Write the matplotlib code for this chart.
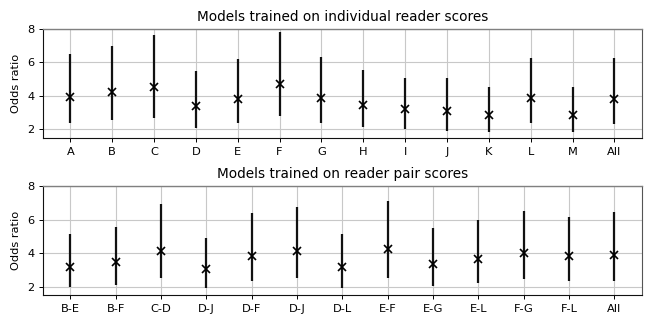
import matplotlib.pyplot as plt
import numpy as np

# individual readers
single_labels = ["A", "B", "C", "D", "E", "F", "G", "H", "I", "J", "K", "L", "M", "All"]
single_or = [3.91, 4.21, 4.51, 3.42, 3.81, 4.71, 3.85, 3.46, 3.22, 3.12, 2.88, 3.87, 2.86, 3.81]
single_lo = [2.35, 2.54, 2.66, 2.09, 2.35, 2.80, 2.35, 2.15, 1.99, 1.89, 1.83, 2.37, 1.83, 2.33]
single_hi = [6.51, 6.99, 7.64, 5.52, 6.21, 7.84, 6.31, 5.56, 5.10, 5.06, 4.55, 6.29, 4.51, 6.26]

# reader pairs
pair_labels = ["B-E", "B-F", "C-D", "D-J", "D-F", "D-J", "D-L", "E-F", "E-G", "E-L", "F-G", "F-L", "All"]
pair_or = [3.17, 3.45, 4.14, 3.07, 3.86, 4.14, 3.17, 4.26, 3.37, 3.67, 4.00, 3.81, 3.90]
pair_lo = [1.96, 2.10, 2.49, 1.94, 2.33, 2.53, 1.94, 2.51, 2.04, 2.23, 2.43, 2.33, 2.35]
pair_hi = [5.14, 5.57, 6.93, 4.90, 6.43, 6.77, 5.14, 7.13, 5.50, 5.97, 6.55, 6.15, 6.45]

plt.rcParams["font.size"] = 8.2


def draw_panel(ax, labels, odds, lo, hi, title):
    odds = np.array(odds)
    x = np.arange(len(labels))
    yerr = [odds - np.array(lo), np.array(hi) - odds]
    ax.errorbar(x, odds, yerr=yerr, fmt="x", color="k", ecolor="#111111",
                elinewidth=1.6, markersize=5.5, markeredgewidth=1.2, zorder=3)
    ax.set_xticks(x)
    ax.set_xticklabels(labels)
    ax.set_yticks([2, 4, 6, 8])
    ax.set_ylim(1.5, 8)
    ax.set_ylabel("Odds ratio")
    ax.set_title(title, fontsize=9.8)
    ax.grid(True, color="#c8c8c8", linewidth=0.8, zorder=0)
    ax.set_axisbelow(True)
    ax.tick_params(length=3, width=0.7)
    spine_colors = {"left": "#111111", "bottom": "#111111", "top": "#808080", "right": "#555555"}
    for side, spine in ax.spines.items():
        spine.set_edgecolor(spine_colors[side])
        spine.set_linewidth(1.0 if side == "top" else 0.8)


fig, axes = plt.subplots(2, 1, figsize=(6.54, 3.27), dpi=100)
draw_panel(axes[0], single_labels, single_or, single_lo, single_hi,
           "Models trained on individual reader scores")
draw_panel(axes[1], pair_labels, pair_or, pair_lo, pair_hi,
           "Models trained on reader pair scores")

fig.subplots_adjust(left=0.066, right=0.981, top=0.911, bottom=0.098, hspace=0.45)
fig.savefig("out.png", dpi=100)
